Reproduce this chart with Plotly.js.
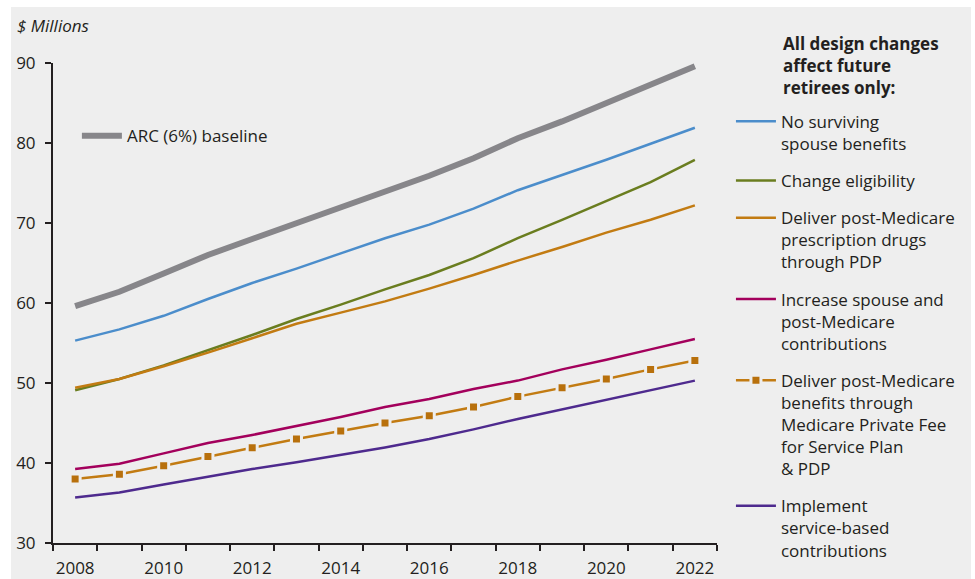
<!DOCTYPE html>
<html>
<head>
<meta charset="utf-8">
<script src="https://cdn.plot.ly/plotly-3.0.1.min.js"></script>
<style>
  html, body { margin: 0; padding: 0; background: #ffffff; width: 975px; height: 579px; overflow: hidden; }
  #chart { position: absolute; left: 11px; top: 7px; width: 960px; height: 572px; }
</style>
</head>
<body>
<div id="chart"></div>
<script>
// ---- data ----
const years = [2008, 2009, 2010, 2011, 2012, 2013, 2014, 2015, 2016, 2017, 2018, 2019, 2020, 2021, 2022];
const tickYears = [2008, 2010, 2012, 2014, 2016, 2018, 2020, 2022];
const tickLabels = ['2008', '2010', '2012', '2014', '2016', '2018', '2020', '2022'];

const arcBaseline      = [59.6, 61.4, 63.7, 66.0, 68.0, 70.0, 71.9, 73.9, 75.9, 78.1, 80.6, 82.7, 85.0, 87.3, 89.6];
const noSurvivingSpouse = [55.3, 56.7, 58.4, 60.5, 62.5, 64.3, 66.2, 68.1, 69.8, 71.8, 74.1, 76.0, 77.9, 79.9, 81.9];
const changeEligibility = [49.1, 50.5, 52.2, 54.1, 56.0, 58.0, 59.8, 61.7, 63.5, 65.6, 68.1, 70.4, 72.7, 75.1, 77.9];
const pdpDrugs          = [49.4, 50.5, 52.1, 53.8, 55.6, 57.4, 58.8, 60.2, 61.8, 63.5, 65.3, 67.0, 68.8, 70.4, 72.2];
const spouseContrib     = [39.25, 39.9, 41.2, 42.5, 43.5, 44.6, 45.75, 47.0, 48.0, 49.25, 50.3, 51.7, 52.9, 54.2, 55.5];
const pffsPdp           = [38.0, 38.6, 39.65, 40.8, 41.9, 43.0, 44.0, 45.0, 45.9, 47.0, 48.3, 49.4, 50.5, 51.7, 52.8];
const serviceBased      = [35.7, 36.3, 37.3, 38.3, 39.25, 40.1, 41.0, 41.95, 43.0, 44.2, 45.5, 46.7, 47.9, 49.1, 50.3];

const seriesNames = [
  'ARC (6%) baseline',
  'No surviving<br>spouse benefits',
  'Change eligibility',
  'Deliver post-Medicare<br>prescription drugs<br>through PDP',
  'Increase spouse and<br>post-Medicare<br>contributions',
  'Deliver post-Medicare<br>benefits through<br>Medicare Private Fee<br>for Service Plan<br>&amp; PDP',
  'Implement<br>service-based<br>contributions'
];
const headerText = '<b>All design changes<br>affect future<br>retirees only:</b>';
const yTitle = '<i>$ Millions</i>';

// ---- styling ----
const FONT = 'Open Sans, Noto Sans, sans-serif';
const INK = '#231f20';
const BG = '#eeeeee';

function lineTrace(y, name, color, width, group, legend) {
  return {
    x: years, y: y, name: name, type: 'scatter', mode: 'lines',
    line: { color: color, width: width },
    legendgroup: group, legend: legend || 'legend', hoverinfo: 'skip'
  };
}

const traces = [
  lineTrace(arcBaseline, seriesNames[0], '#87868a', 6, 'g0', 'legend2'),
  lineTrace(noSurvivingSpouse, seriesNames[1], '#4b8dcb', 2.5, 'g1'),
  lineTrace(changeEligibility, seriesNames[2], '#6a7d1f', 2.5, 'g2'),
  lineTrace(pdpDrugs, seriesNames[3], '#c27b12', 2.5, 'g3'),
  lineTrace(spouseContrib, seriesNames[4], '#a3005c', 2.5, 'g4'),
  {
    x: years, y: pffsPdp, name: seriesNames[5], type: 'scatter', mode: 'lines+markers',
    line: { color: '#c27b12', width: 2.5 },
    marker: { symbol: 'square', size: 10, color: '#b8700c', line: { color: BG, width: 3 } },
    legendgroup: 'g5', legend: 'legend', hoverinfo: 'skip'
  },
  lineTrace(serviceBased, seriesNames[6], '#4e2a8e', 2.5, 'g6')
];

const layout = {
  width: 960, height: 572,
  paper_bgcolor: BG, plot_bgcolor: BG,
  margin: { l: 42, r: 254, t: 56, b: 36, autoexpand: false },
  font: { family: FONT, color: INK, size: 16 },
  showlegend: true,
  xaxis: {
    range: [2007.5, 2022.5], fixedrange: true,
    tickvals: tickYears, ticktext: tickLabels,
    ticks: 'outside', ticklen: 9, tickcolor: 'rgba(0,0,0,0)',
    tickfont: { size: 17, color: INK, family: FONT },
    showline: true, linecolor: INK, linewidth: 2,
    showgrid: false, zeroline: false,
    minor: { tick0: 2007.5, dtick: 1, ticks: 'outside', ticklen: 6, tickwidth: 2, tickcolor: INK, showgrid: false }
  },
  yaxis: {
    range: [30, 90], dtick: 10, fixedrange: true,
    ticks: 'outside', ticklen: 6, tickwidth: 2, tickcolor: INK,
    ticklabelstandoff: 6,
    tickfont: { size: 17, color: INK, family: FONT },
    showline: true, linecolor: INK, linewidth: 2,
    showgrid: false, zeroline: false
  },
  legend: {
    x: 1.021, xanchor: 'left', y: 0.915, yanchor: 'top',
    bgcolor: 'rgba(0,0,0,0)', borderwidth: 0,
    font: { size: 17, color: INK, family: FONT },
    valign: 'top', traceorder: 'grouped', tracegroupgap: 12,
    itemwidth: 40
  },
  legend2: {
    x: 0.036, xanchor: 'left', y: 0.885, yanchor: 'top',
    bgcolor: 'rgba(0,0,0,0)', borderwidth: 0,
    font: { size: 17, color: INK, family: FONT },
    itemwidth: 40
  },
  annotations: [
    {
      text: yTitle, xref: 'paper', yref: 'paper', x: -0.057, y: 1.079,
      xanchor: 'left', yanchor: 'middle', showarrow: false,
      font: { size: 17, color: INK, family: FONT }
    },
    {
      text: headerText, xref: 'paper', yref: 'paper', x: 1.097, y: 1.068,
      xanchor: 'left', yanchor: 'top', align: 'left', showarrow: false,
      font: { size: 17, color: INK, family: FONT }
    }
  ]
};

Plotly.newPlot('chart', traces, layout, { displayModeBar: false, staticPlot: true });
</script>
</body>
</html>
